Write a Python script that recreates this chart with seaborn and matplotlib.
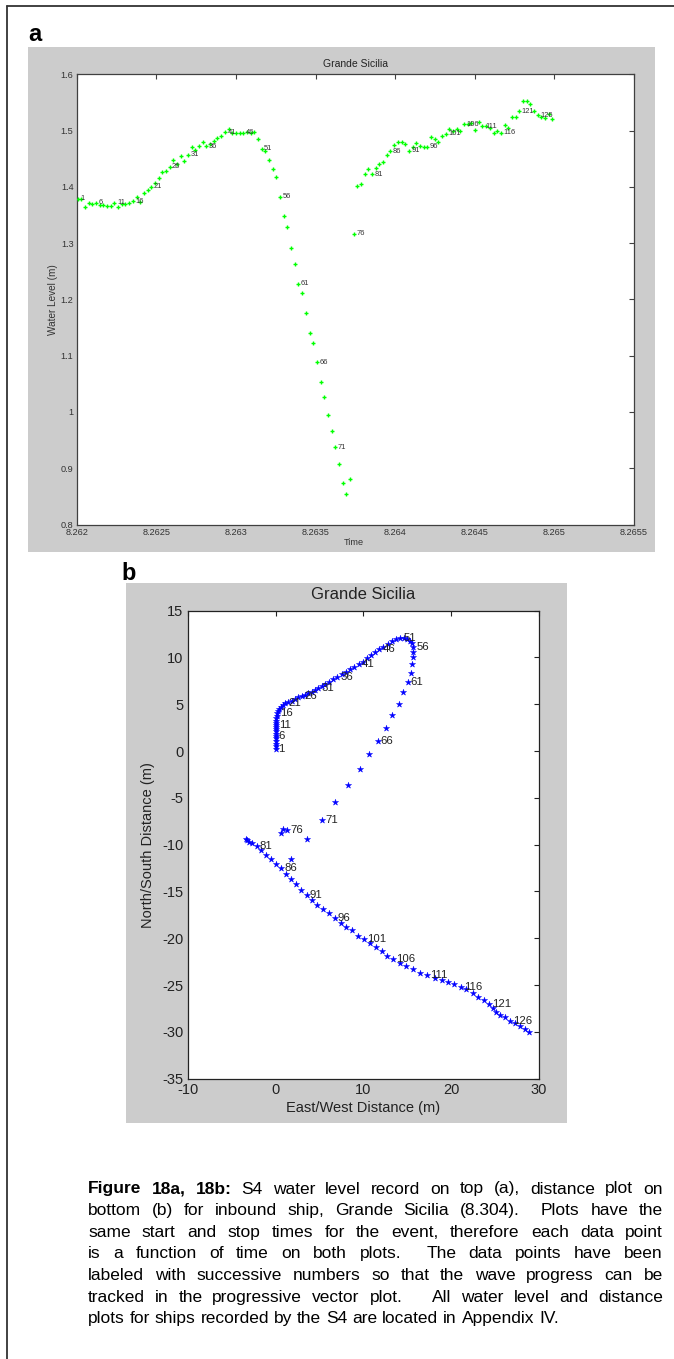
import numpy as np
import pandas as pd
import matplotlib
matplotlib.use("Agg")
import matplotlib.pyplot as plt
import seaborn as sns
from matplotlib.lines import Line2D
from matplotlib.patches import Rectangle

# ---------------- data ----------------
TITLE = "Grande Sicilia"
T_START = 8.262004            # time of first sample (days)
SAMPLE_INTERVAL = 2 / 86400   # 2-second sampling, in days
sample = np.arange(1, 131)

water_level = [
    1.379, 1.379, 1.364, 1.372, 1.370, 1.372, 1.368, 1.367, 1.366, 1.366,
    1.372, 1.364, 1.370, 1.370, 1.372, 1.374, 1.382, 1.373, 1.389, 1.395,
    1.400, 1.406, 1.415, 1.427, 1.429, 1.436, 1.448, 1.441, 1.454, 1.446,
    1.457, 1.471, 1.465, 1.472, 1.479, 1.472, 1.477, 1.482, 1.487, 1.491,
    1.497, 1.502, 1.496, 1.496, 1.496, 1.496, 1.497, 1.496, 1.497, 1.485,
    1.468, 1.463, 1.448, 1.431, 1.418, 1.382, 1.349, 1.328, 1.292, 1.263,
    1.228, 1.212, 1.175, 1.140, 1.123, 1.088, 1.053, 1.026, 0.994, 0.966,
    0.937, 0.908, 0.873, 0.855, 0.881, 1.317, 1.402, 1.405, 1.422, 1.431,
    1.422, 1.433, 1.440, 1.445, 1.456, 1.463, 1.474, 1.480, 1.479, 1.476,
    1.464, 1.470, 1.478, 1.472, 1.471, 1.471, 1.488, 1.485, 1.479, 1.490,
    1.494, 1.503, 1.499, 1.502, 1.500, 1.511, 1.512, 1.513, 1.501, 1.515,
    1.508, 1.509, 1.504, 1.496, 1.499, 1.496, 1.510, 1.505, 1.525, 1.525,
    1.534, 1.552, 1.552, 1.548, 1.535, 1.527, 1.525, 1.523, 1.529, 1.520,
]

east_west = [
    0.00, 0.00, 0.00, 0.00, 0.00, 0.00, 0.00, 0.00, 0.02, 0.03,
    0.04, 0.06, 0.08, 0.11, 0.15, 0.21, 0.32, 0.44, 0.59, 0.82,
    1.12, 1.46, 1.84, 2.22, 2.60, 2.98, 3.36, 3.74, 4.12, 4.50,
    4.88, 5.26, 5.64, 6.13, 6.59, 7.04, 7.53, 8.03, 8.48, 8.97,
    9.47, 9.93, 10.38, 10.84, 11.33, 11.83, 12.28, 12.77, 13.23, 13.72,
    14.18, 14.64, 15.00, 15.33, 15.55, 15.67, 15.62, 15.66, 15.58, 15.43,
    15.05, 14.56, 14.03, 13.31, 12.58, 11.63, 10.65, 9.62, 8.26, 6.82,
    5.30, 3.62, 1.80, 0.66, 0.85, 1.31, -3.36, -3.25, -3.05, -2.64,
    -2.15, -1.62, -1.09, -0.52, 0.05, 0.66, 1.19, 1.76, 2.37, 2.94,
    3.55, 4.12, 4.76, 5.41, 6.09, 6.74, 7.45, 8.06, 8.71, 9.36,
    10.11, 10.76, 11.41, 12.09, 12.74, 13.42, 14.18, 14.89, 15.66, 16.45,
    17.29, 18.16, 18.92, 19.69, 20.37, 21.09, 21.74, 22.46, 23.11, 23.75,
    24.36, 24.81, 25.15, 25.61, 26.10, 26.71, 27.32, 27.85, 28.38, 28.87,
]

north_south = [
    0.21, 0.50, 0.79, 1.07, 1.36, 1.64, 1.85, 2.10, 2.32, 2.57,
    2.78, 2.99, 3.24, 3.49, 3.74, 4.02, 4.27, 4.52, 4.73, 4.92,
    5.10, 5.24, 5.38, 5.56, 5.73, 5.88, 6.02, 6.16, 6.30, 6.52,
    6.73, 6.95, 7.16, 7.41, 7.66, 7.94, 8.19, 8.48, 8.73, 9.01,
    9.30, 9.55, 9.90, 10.22, 10.54, 10.86, 11.15, 11.43, 11.72, 11.97,
    12.07, 12.07, 11.97, 11.79, 11.50, 11.08, 10.61, 10.00, 9.26, 8.37,
    7.40, 6.30, 5.06, 3.81, 2.50, 1.03, -0.35, -1.95, -3.67, -5.45,
    -7.37, -9.44, -11.50, -8.80, -8.30, -8.44, -9.44, -9.55, -9.69, -9.87,
    -10.15, -10.58, -11.08, -11.58, -12.11, -12.54, -13.14, -13.71, -14.25, -14.85,
    -15.42, -15.92, -16.45, -16.92, -17.34, -17.84, -18.34, -18.77, -19.16, -19.73,
    -20.12, -20.55, -20.97, -21.37, -21.90, -22.26, -22.61, -22.97, -23.32, -23.68,
    -23.97, -24.25, -24.47, -24.68, -24.90, -25.18, -25.46, -25.89, -26.25, -26.60,
    -27.03, -27.42, -27.85, -28.17, -28.46, -28.81, -29.10, -29.35, -29.70, -30.06,
]

A_XTICKS = [8.262, 8.2625, 8.263, 8.2635, 8.264, 8.2645, 8.265, 8.2655]
A_XTICKLABELS = ["8.262", "8.2625", "8.263", "8.2635", "8.264", "8.2645", "8.265", "8.2655"]
A_YTICKS = [0.8, 0.9, 1.0, 1.1, 1.2, 1.3, 1.4, 1.5, 1.6]
A_YTICKLABELS = ["0.8", "0.9", "1", "1.1", "1.2", "1.3", "1.4", "1.5", "1.6"]
B_XTICKS = [-10, 0, 10, 20, 30]
B_XTICKLABELS = ["-10", "0", "10", "20", "30"]
B_YTICKS = [-35, -30, -25, -20, -15, -10, -5, 0, 5, 10, 15]
B_YTICKLABELS = ["-35", "-30", "-25", "-20", "-15", "-10", "-5", "0", "5", "10", "15"]

CAPTION_BOLD = "Figure 18a, 18b:"
CAPTION_LINES = [
    "Figure 18a, 18b: S4 water level record on top (a), distance plot on",
    "bottom (b) for inbound ship, Grande Sicilia (8.304).  Plots have the",
    "same start and stop times for the event, therefore each data point",
    "is a function of time on both plots.  The data points have been",
    "labeled with successive numbers so that the wave progress can be",
    "tracked in the progressive vector plot.   All water level and distance",
    "plots for ships recorded by the S4 are located in Appendix IV.",
]

df = pd.DataFrame({
    "sample": sample,
    "time": T_START + (sample - 1) * SAMPLE_INTERVAL,
    "level": water_level,
    "ew": east_west,
    "ns": north_south,
})
labeled = df[(df["sample"] % 5) == 1]

# ---------------- figure ----------------
sns.set_theme(style="white")
plt.rcParams['font.family'] = ['Liberation Sans', 'DejaVu Sans']
plt.rcParams['axes.unicode_minus'] = False

W, H = 674, 1359
fig = plt.figure(figsize=(W / 100, H / 100), dpi=100)
fig.patch.set_facecolor('white')


def fx(px):
    return px / W


def fy(py):
    return 1 - py / H


def box(l, t, r, b):
    return [fx(l), fy(b), (r - l) / W, (b - t) / H]


# page frame (left and top edges)
fig.add_artist(Line2D([fx(6.5), fx(6.5)], [fy(5.5), 0], transform=fig.transFigure,
                      color='#333333', lw=1.3))
fig.add_artist(Line2D([fx(6.5), 1], [fy(5.5), fy(5.5)], transform=fig.transFigure,
                      color='#333333', lw=1.3))

# gray figure backgrounds
fig.add_artist(Rectangle((fx(28), fy(552)), 627 / W, 505 / H, transform=fig.transFigure,
                         facecolor='#cccccc', edgecolor='none', zorder=-5))
fig.add_artist(Rectangle((fx(126), fy(1123)), 441 / W, 540 / H, transform=fig.transFigure,
                         facecolor='#cccccc', edgecolor='none', zorder=-5))

fig.text(fx(28), fy(41), "a", fontsize=17, fontweight='bold', va='baseline', ha='left', color='black')
fig.text(fx(121), fy(580), "b", fontsize=17, fontweight='bold', va='baseline', ha='left', color='black')

# ---------------- panel a ----------------
axA = fig.add_axes(box(77, 74.3, 633.5, 524.5))
axA.set_facecolor('white')
sns.scatterplot(data=df, x="time", y="level", ax=axA, marker='+', color='#00ff00',
                s=10, linewidth=1.0, legend=False, zorder=3)
for _, r in labeled.iterrows():
    axA.annotate(str(int(r["sample"])), (r["time"], r["level"]), xytext=(1.8, 0),
                 textcoords='offset points', fontsize=5.4, va='center', ha='left',
                 color='#333333', zorder=4)
axA.set_xlim(8.262, 8.2655)
axA.set_ylim(0.8, 1.6)
axA.set_xticks(A_XTICKS)
axA.set_xticklabels(A_XTICKLABELS)
axA.set_yticks(A_YTICKS)
axA.set_yticklabels(A_YTICKLABELS)
axA.tick_params(direction='in', length=3.6, width=0.8, top=True, right=True,
                labelsize=6.6, pad=2.5, colors='#404040', labelcolor='#333333')
for s in axA.spines.values():
    s.set_color('#404040')
    s.set_linewidth(0.9)
axA.set_xlabel("Time", fontsize=6.6, color='#333333')
axA.set_ylabel("Water Level (m)", fontsize=7.2, color='#333333')
axA.xaxis.set_label_coords(0.497, -0.030)
axA.yaxis.set_label_coords(-0.034, 0.5)
axA.set_title(TITLE, fontsize=7.5, color='#222222', y=1.0162, pad=0)
axA.grid(False)

# ---------------- panel b ----------------
axB = fig.add_axes(box(187.7, 610.7, 539, 1078.6))
axB.set_facecolor('white')
sns.scatterplot(data=df, x="ew", y="ns", ax=axB, marker='*', color='#0000ff',
                s=22, linewidth=0.3, edgecolor='#0000ff', legend=False, zorder=3)
for _, r in labeled.iterrows():
    axB.annotate(str(int(r["sample"])), (r["ew"], r["ns"]), xytext=(2.2, 0),
                 textcoords='offset points', fontsize=8.2, va='center', ha='left',
                 color='#222222', zorder=4)
axB.set_xlim(-10, 30)
axB.set_ylim(-35, 15)
axB.set_xticks(B_XTICKS)
axB.set_xticklabels(B_XTICKLABELS)
axB.set_yticks(B_YTICKS)
axB.set_yticklabels(B_YTICKLABELS)
axB.tick_params(direction='in', length=3.8, width=0.8, top=True, right=True,
                labelsize=10.5, pad=3.0, colors='#222222', labelcolor='#222222')
for s in axB.spines.values():
    s.set_color('#222222')
    s.set_linewidth(0.9)
axB.set_xlabel("East/West Distance (m)", fontsize=10.5, color='#222222')
axB.set_ylabel("North/South Distance (m)", fontsize=10.5, color='#222222')
axB.xaxis.set_label_coords(0.5, -0.047)
axB.yaxis.set_label_coords(-0.093, 0.5)
axB.set_title(TITLE, fontsize=12, color='#222222', y=1.0244, pad=0)
axB.grid(False)

# ---------------- caption (justified) ----------------
CAP_FS = 12.5
CAP_LEFT, CAP_RIGHT = 88, 663
CAP_TOP_BASELINE, CAP_STEP = 1193.5, 21.65

fig.canvas.draw()
renderer = fig.canvas.get_renderer()


def word_width(word, bold, fs):
    if word == "":
        return 0.0
    t = fig.text(0, 0, word, fontsize=fs, fontweight='bold' if bold else 'normal')
    w = t.get_window_extent(renderer).width
    t.remove()
    return w


space_w = word_width("a a", False, CAP_FS) - 2 * word_width("a", False, CAP_FS)
n_bold = len(CAPTION_BOLD.split(" "))
for li, line in enumerate(CAPTION_LINES):
    words = line.split(" ")
    bolds = [li == 0 and wi < n_bold for wi in range(len(words))]
    widths = [word_width(w, b, CAP_FS) for w, b in zip(words, bolds)]
    n_gaps = len(words) - 1
    if li < len(CAPTION_LINES) - 1:
        gap = (CAP_RIGHT - CAP_LEFT - sum(widths)) / n_gaps
    else:
        gap = space_w
    x = CAP_LEFT
    yb = CAP_TOP_BASELINE + li * CAP_STEP
    for w, b, wd in zip(words, bolds, widths):
        if w:
            fig.text(fx(x), fy(yb), w, fontsize=CAP_FS, fontweight='bold' if b else 'normal',
                     va='baseline', ha='left', color='black')
        x += wd + gap

fig.savefig("out.png", dpi=100)
